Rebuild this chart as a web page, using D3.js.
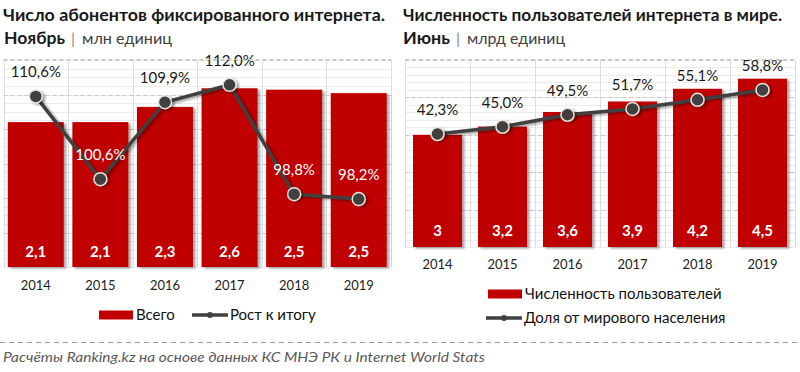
<!DOCTYPE html>
<html>
<head>
<meta charset="utf-8">
<script src="https://cdn.jsdelivr.net/npm/d3@7"></script>
<style>
  html, body { margin: 0; padding: 0; background: #fff; }
  svg { display: block; font-family: Lato, "Open Sans", sans-serif; }
</style>
</head>
<body>
<svg id="chart" width="800" height="372"></svg>
<script>
// ---- Data ----
const years = ["2014", "2015", "2016", "2017", "2018", "2019"];

// Left chart: fixed internet subscribers, mln units (November)
const subscribers = [2.1, 2.1, 2.32, 2.59, 2.57, 2.52];
const subscriberLabels = ["2,1", "2,1", "2,3", "2,6", "2,5", "2,5"];
const growth = [110.6, 100.6, 109.9, 112.0, 98.8, 98.2];
const growthLabels = ["110,6%", "100,6%", "109,9%", "112,0%", "98,8%", "98,2%"];

// Right chart: internet users in the world, bln units (June)
const users = [3.0, 3.22, 3.61, 3.89, 4.23, 4.5];
const userLabels = ["3", "3,2", "3,6", "3,9", "4,2", "4,5"];
const share = [42.3, 45.0, 49.5, 51.7, 55.1, 58.8];
const shareLabels = ["42,3%", "45,0%", "49,5%", "51,7%", "55,1%", "58,8%"];

const RED = "#c00000";
const LINE = "#404040";

const svg = d3.select("#chart");

// shadow filter
const defs = svg.append("defs");
const f = defs.append("filter").attr("id", "shadow").attr("x", "-20%").attr("y", "-20%").attr("width", "150%").attr("height", "150%");
f.append("feDropShadow").attr("dx", 2.5).attr("dy", 1.5).attr("stdDeviation", 1.2).attr("flood-color", "#000").attr("flood-opacity", 0.35);

function panel(opts) {
  const g = svg.append("g");
  const x = d3.scaleBand().domain(years).range([opts.x0, opts.x1])
    .paddingInner(opts.pad).paddingOuter(opts.pad / 2);
  const yB = d3.scaleLinear().domain(opts.barDomain).range([opts.yBottom, opts.yTop]);
  const yL = d3.scaleLinear().domain(opts.lineDomain).range([opts.yBottom, opts.yTop]);

  // minor gridlines
  const minor = d3.range(opts.barDomain[0], opts.barDomain[1] + 1e-9, opts.minorStep);
  g.selectAll(".minor").data(minor).join("line")
    .attr("x1", opts.x0).attr("x2", opts.x1)
    .attr("y1", d => Math.round(yB(d)) + 0.5).attr("y2", d => Math.round(yB(d)) + 0.5)
    .attr("stroke", "#ececec").attr("stroke-width", 1);
  // major gridlines (dashed)
  const major = d3.range(opts.barDomain[0] + opts.majorStep, opts.barDomain[1] + 1e-9, opts.majorStep);
  g.selectAll(".major").data(major).join("line")
    .attr("x1", opts.x0).attr("x2", opts.x1)
    .attr("y1", d => Math.round(yB(d)) + 0.5).attr("y2", d => Math.round(yB(d)) + 0.5)
    .attr("stroke", "#c8c8c8").attr("stroke-width", 1).attr("stroke-dasharray", "4,3");
  // vertical gridlines at band boundaries
  const step = x.step();
  const bounds = d3.range(0, years.length + 1).map(i => opts.x0 + i * step);
  g.selectAll(".vgrid").data(bounds).join("line")
    .attr("x1", d => Math.round(d) + 0.5).attr("x2", d => Math.round(d) + 0.5)
    .attr("y1", opts.yTop).attr("y2", opts.yBottom)
    .attr("stroke", "#dcdcdc").attr("stroke-width", 1);

  // bars
  g.selectAll(".bar").data(opts.bars).join("rect")
    .attr("x", (d, i) => x(years[i]))
    .attr("width", x.bandwidth())
    .attr("y", d => yB(d))
    .attr("height", d => yB(0) - yB(d))
    .attr("fill", RED)
    .attr("filter", "url(#shadow)");

  // bar value labels
  g.selectAll(".bval").data(opts.barLabels).join("text")
    .attr("x", (d, i) => x(years[i]) + x.bandwidth() / 2)
    .attr("y", opts.yBottom - opts.barLabelOffset)
    .attr("text-anchor", "middle")
    .attr("fill", "#fff").attr("font-weight", "bold").attr("font-size", 15)
    .text(d => d);

  // line
  const cx = (d, i) => x(years[i]) + x.bandwidth() / 2;
  const line = d3.line().x((d, i) => cx(d, i)).y(d => yL(d));
  g.append("path").datum(opts.line)
    .attr("d", line).attr("fill", "none")
    .attr("stroke", LINE).attr("stroke-width", 3.5)
    .attr("filter", "url(#shadow)");
  g.selectAll(".dot").data(opts.line).join("circle")
    .attr("cx", cx).attr("cy", d => yL(d)).attr("r", 6.5)
    .attr("fill", LINE).attr("stroke", "#e9e4da").attr("stroke-width", 1.5)
    .attr("filter", "url(#shadow)");

  // line labels
  g.selectAll(".lval").data(opts.line).join("text")
    .attr("x", cx)
    .attr("y", d => yL(d) - 19)
    .attr("text-anchor", "middle")
    .attr("font-size", 15)
    .attr("fill", (d, i) => (yL(d) - 24 > yB(opts.bars[i]) + 4) ? "#fff" : "#1a1a1a")
    .text((d, i) => opts.lineLabels[i]);

  // x axis labels
  const xa = d3.axisBottom(x).tickSize(0).tickPadding(0);
  const ax = g.append("g").attr("transform", `translate(0,${opts.xLabelY})`).call(xa);
  ax.select(".domain").remove();
  ax.selectAll("text").attr("font-size", 13).attr("fill", "#222")
    .attr("font-family", "Lato, 'Open Sans', sans-serif").attr("dy", "0.35em").attr("y", 0);
  return g;
}

panel({
  x0: 3.5, x1: 391, pad: 0.133,
  yTop: 60, yBottom: 267,
  barDomain: [0, 3], lineDomain: [90, 115],
  majorStep: 0.5, minorStep: 0.125,
  bars: subscribers, barLabels: subscriberLabels,
  line: growth, lineLabels: growthLabels,
  barLabelOffset: 10, xLabelY: 285
});

panel({
  x0: 405, x1: 795, pad: 0.246,
  yTop: 60, yBottom: 247,
  barDomain: [0, 5], lineDomain: [0, 70],
  majorStep: 1, minorStep: 0.2,
  bars: users, barLabels: userLabels,
  line: share, lineLabels: shareLabels,
  barLabelOffset: 11, xLabelY: 264
});

// top dashed borders
[[3.5, 391], [405, 795]].forEach(([a, b]) => {
  svg.append("line").attr("x1", a).attr("x2", b).attr("y1", 59.5).attr("y2", 59.5)
    .attr("stroke", "#c8c8c8").attr("stroke-dasharray", "4,3");
});

// Titles
function title(x, y, text, len) {
  svg.append("text").attr("x", x).attr("y", y).attr("font-size", 17).attr("font-weight", "bold")
    .attr("fill", "#1a1a1a").attr("textLength", len).attr("lengthAdjust", "spacingAndGlyphs").text(text);
}
title(3, 21, "Число абонентов фиксированного интернета.", 382);
title(403, 21, "Численность пользователей интернета в мире.", 379);

function subtitle(x, y, bold, boldLen, unit, unitLen) {
  const t = svg.append("text").attr("x", x).attr("y", y).attr("font-size", 17);
  t.append("tspan").attr("font-weight", "bold").attr("fill", "#1a1a1a")
    .attr("textLength", boldLen).attr("lengthAdjust", "spacingAndGlyphs").text(bold);
  t.append("tspan").attr("dx", 6).attr("fill", "#888").attr("font-size", 16).text("|");
  t.append("tspan").attr("dx", 7).attr("fill", "#404040").attr("font-size", 15)
    .attr("textLength", unitLen).attr("lengthAdjust", "spacingAndGlyphs").text(unit);
}
subtitle(4, 44, "Ноябрь", 61, "млн единиц", 90);
subtitle(403, 44, "Июнь", 47, "млрд единиц", 98);

// Legends
const lg = svg.append("g").attr("font-size", 15).attr("fill", "#111");
function legRect(x, y, label) {
  lg.append("rect").attr("x", x).attr("y", y - 4.5).attr("width", 34).attr("height", 9).attr("fill", RED);
  lg.append("text").attr("x", x + 37).attr("y", y).attr("dy", "0.35em").attr("fill", "#111").text(label);
}
function legLine(x, y, label) {
  lg.append("line").attr("x1", x).attr("x2", x + 36).attr("y1", y).attr("y2", y)
    .attr("stroke", LINE).attr("stroke-width", 3.5);
  lg.append("circle").attr("cx", x + 18).attr("cy", y).attr("r", 3).attr("fill", LINE);
  lg.append("text").attr("x", x + 38).attr("y", y).attr("dy", "0.35em").attr("fill", "#111").text(label);
}
legRect(99, 315, "Всего");
legLine(192, 315, "Рост к итогу");
legRect(488, 294, "Численность пользователей");
legLine(486, 318, "Доля от мирового населения");

// Separator & source
svg.append("line").attr("x1", 0).attr("x2", 800).attr("y1", 342.5).attr("y2", 342.5)
  .attr("stroke", "#999").attr("stroke-dasharray", "5,4");
svg.append("text").attr("x", 3).attr("y", 362).attr("font-size", 14).attr("font-style", "italic")
  .attr("fill", "#595959").attr("textLength", 482).attr("lengthAdjust", "spacingAndGlyphs")
  .text("Расчёты Ranking.kz на основе данных КС МНЭ РК и Internet World Stats");
</script>
</body>
</html>
